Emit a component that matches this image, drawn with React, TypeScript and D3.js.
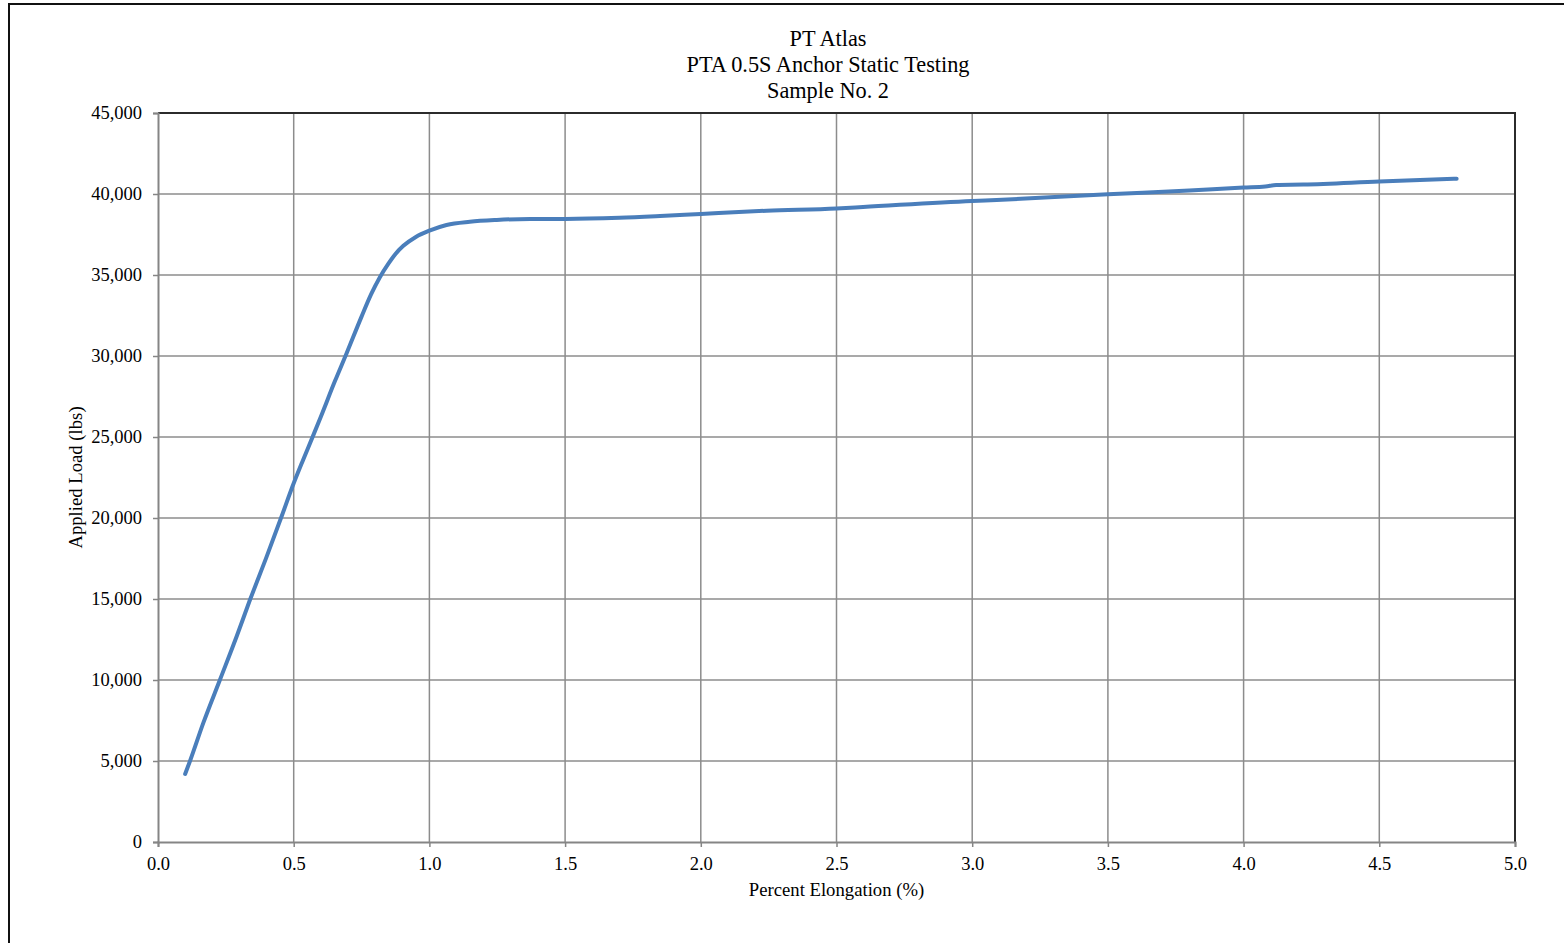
import React, { useRef, useEffect } from "react";
import * as d3 from "d3";

// values (percent elongation vs applied load)
const elongation = [
  0.1, 0.118, 0.167, 0.228, 0.29, 0.339, 0.4, 0.455, 0.5, 0.535, 0.572, 0.6,
  0.652, 0.695, 0.75, 0.785, 0.817, 0.849, 0.875, 0.904, 0.95, 1.0, 1.063,
  1.149, 1.248, 1.371, 1.5, 1.7, 1.85, 2.0, 2.243, 2.5, 2.598, 3.0, 3.09, 3.5,
  3.8, 4.0, 4.08, 4.12, 4.22, 4.5, 4.785,
];
const load = [
  4200, 5000, 7350, 10000, 12700, 14950, 17600, 20080, 22140, 23600, 25100,
  26250, 28450, 30170, 32430, 33800, 34850, 35700, 36300, 36800, 37350, 37740,
  38090, 38290, 38400, 38460, 38460, 38530, 38640, 38770, 38970, 39110, 39200,
  39570, 39630, 39980, 40220, 40400, 40460, 40560, 40580, 40770, 40940,
];
const xTicks = [0, 0.5, 1, 1.5, 2, 2.5, 3, 3.5, 4, 4.5, 5];
const yTicks = [0, 5000, 10000, 15000, 20000, 25000, 30000, 35000, 40000, 45000];
const titleLines = ["PT Atlas", "PTA 0.5S Anchor Static Testing", "Sample No. 2"];

const W = 1564;
const H = 943;
const plot = { left: 158, top: 113, right: 1515, bottom: 842 };
const FONT = "'Liberation Serif', 'Times New Roman', serif";

export default function App() {
  const svgRef = useRef<SVGSVGElement>(null);

  useEffect(() => {
    const svg = d3.select(svgRef.current);
    svg.selectAll("*").remove();

    const x = d3.scaleLinear().domain([0, 5]).range([plot.left, plot.right]);
    const y = d3.scaleLinear().domain([0, 45000]).range([plot.bottom, plot.top]);

    // outer chart border (runs off the picture right and bottom)
    svg.append("rect")
      .attr("x", 9).attr("y", 4)
      .attr("width", 1700).attr("height", 1100)
      .attr("fill", "white")
      .attr("stroke", "#111").attr("stroke-width", 2);

    // gridlines
    svg.append("g")
      .selectAll("line.h")
      .data(yTicks.slice(1))
      .join("line")
      .attr("x1", plot.left).attr("x2", plot.right)
      .attr("y1", d => y(d)).attr("y2", d => y(d))
      .attr("stroke", "#8c8c8c").attr("stroke-width", 1.5);
    svg.append("g")
      .selectAll("line.v")
      .data(xTicks.slice(1))
      .join("line")
      .attr("x1", d => x(d)).attr("x2", d => x(d))
      .attr("y1", plot.top).attr("y2", plot.bottom)
      .attr("stroke", "#8c8c8c").attr("stroke-width", 1.5);

    // top & right plot border
    svg.append("path")
      .attr("d", `M${plot.left},${plot.top}H${plot.right}V${plot.bottom}`)
      .attr("fill", "none").attr("stroke", "#2b2b2b").attr("stroke-width", 2);

    // y axis
    const yAxis = d3.axisLeft(y)
      .tickValues(yTicks)
      .tickSize(5)
      .tickPadding(11)
      .tickFormat(d => d3.format(",")(d as number));
    const gy = svg.append("g").attr("transform", `translate(${plot.left},0)`).call(yAxis);
    gy.select(".domain").attr("stroke", "#858585").attr("stroke-width", 2);
    gy.selectAll(".tick line").attr("stroke", "#858585").attr("stroke-width", 1.5);
    gy.selectAll(".tick text")
      .attr("font-family", FONT).attr("font-size", 18.5).attr("fill", "#000");

    // x axis
    const xAxis = d3.axisBottom(x)
      .tickValues(xTicks)
      .tickSize(5)
      .tickPadding(10)
      .tickFormat(d => d3.format(".1f")(d as number));
    const gx = svg.append("g").attr("transform", `translate(0,${plot.bottom})`).call(xAxis);
    gx.select(".domain").attr("stroke", "#858585").attr("stroke-width", 2);
    gx.selectAll(".tick line").attr("stroke", "#858585").attr("stroke-width", 1.5);
    gx.selectAll(".tick text")
      .attr("font-family", FONT).attr("font-size", 18.5).attr("fill", "#000");

    // data line
    const pts = elongation.map((e, i) => [e, load[i]] as [number, number]);
    const line = d3.line<[number, number]>()
      .x(d => x(d[0]))
      .y(d => y(d[1]))
      .curve(d3.curveMonotoneX);
    svg.append("path")
      .datum(pts)
      .attr("d", line)
      .attr("fill", "none")
      .attr("stroke", "#4a7ebb")
      .attr("stroke-width", 4)
      .attr("stroke-linecap", "round")
      .attr("stroke-linejoin", "round");

    // titles
    svg.append("g")
      .selectAll("text")
      .data(titleLines)
      .join("text")
      .attr("x", 828)
      .attr("y", (d, i) => 46 + i * 26)
      .attr("text-anchor", "middle")
      .attr("font-family", FONT)
      .attr("font-size", 22.3)
      .text(d => d);

    svg.append("text")
      .attr("x", (plot.left + plot.right) / 2)
      .attr("y", 896)
      .attr("text-anchor", "middle")
      .attr("font-family", FONT)
      .attr("font-size", 18.7)
      .text("Percent Elongation (%)");

    svg.append("text")
      .attr("transform", `translate(82,${(plot.top + plot.bottom) / 2}) rotate(-90)`)
      .attr("text-anchor", "middle")
      .attr("font-family", FONT)
      .attr("font-size", 18.7)
      .text("Applied Load (lbs)");
  }, []);

  return (
    <svg
      ref={svgRef}
      width={W}
      height={H}
      style={{ position: "absolute", left: 0, top: 0, background: "white" }}
    />
  );
}
